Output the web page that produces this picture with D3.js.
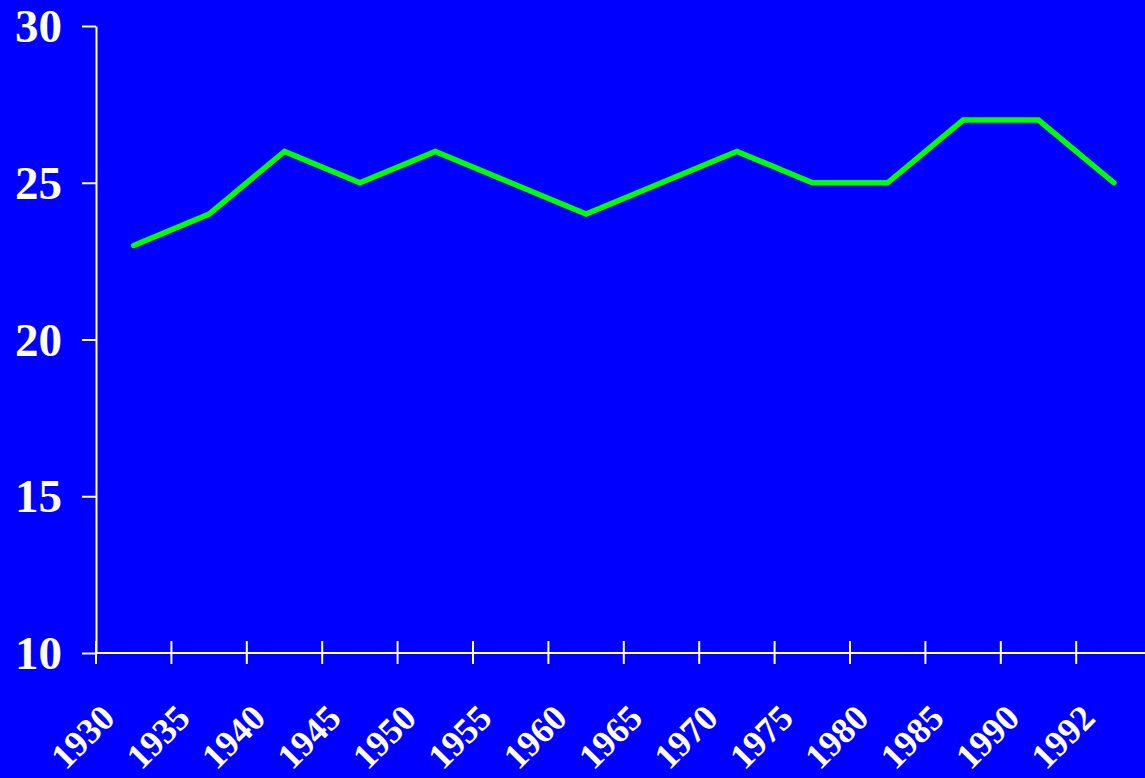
<!DOCTYPE html>
<html>
<head>
<meta charset="utf-8">
<script src="https://cdn.jsdelivr.net/npm/d3@7"></script>
<style>
  html, body { margin: 0; padding: 0; background: #0000ff; }
  svg { display: block; }
  .axis text { font-family: "Liberation Serif", "Times New Roman", serif; font-weight: bold; fill: #fff; }
</style>
</head>
<body>
<svg id="chart" width="1145" height="778"></svg>
<script>
// data
const years = ["1930", "1935", "1940", "1945", "1950", "1955", "1960",
               "1965", "1970", "1975", "1980", "1985", "1990", "1992"];
const values = [23, 24, 26, 25, 26, 25, 24, 25, 26, 25, 25, 27, 27, 25];
const yTicks = [10, 15, 20, 25, 30];

const svg = d3.select("#chart");
const W = +svg.attr("width");
const H = +svg.attr("height");

svg.append("rect").attr("width", W).attr("height", H).attr("fill", "#0000ff");

// layout
const plotLeft = 96, plotTop = 26, plotBottom = 653;
const step = 75.4;

const x = d3.scaleBand().domain(years).range([plotLeft, plotLeft + step * years.length]).padding(0);
const y = d3.scaleLinear().domain([10, 30]).range([plotBottom, plotTop]);

// y axis
const yAxisG = svg.append("g")
    .attr("class", "axis")
    .attr("transform", `translate(${plotLeft},0)`)
    .call(d3.axisLeft(y).tickValues(yTicks).tickSize(14).tickSizeOuter(0).tickPadding(20));
yAxisG.select(".domain").attr("stroke", "#fff").attr("stroke-width", 2);
yAxisG.selectAll(".tick line").attr("stroke", "#fff").attr("stroke-width", 2);
yAxisG.selectAll(".tick text").attr("font-size", 47).attr("dy", "0.33em");

// x axis line
svg.append("line")
    .attr("x1", plotLeft).attr("x2", W)
    .attr("y1", plotBottom).attr("y2", plotBottom)
    .attr("stroke", "#fff").attr("stroke-width", 2);

// tick marks at band boundaries (crossing the axis)
svg.append("g").selectAll("line")
    .data(years)
    .join("line")
    .attr("x1", d => x(d)).attr("x2", d => x(d))
    .attr("y1", plotBottom - 12).attr("y2", plotBottom + 11)
    .attr("stroke", "#fff").attr("stroke-width", 2);

// rotated year labels
svg.append("g").attr("class", "axis").selectAll("text")
    .data(years)
    .join("text")
    .attr("text-anchor", "end")
    .attr("font-size", 36)
    .attr("transform", d => `translate(${x(d) + x.bandwidth() / 2 - 17},${plotBottom + 67}) rotate(-45)`)
    .text(d => d);

// line
const line = d3.line()
    .x((d, i) => x(years[i]) + x.bandwidth() / 2)
    .y(d => y(d));

svg.append("path")
    .datum(values)
    .attr("d", line)
    .attr("fill", "none")
    .attr("stroke", "#00ff00")
    .attr("stroke-width", 5.5)
    .attr("stroke-linejoin", "miter")
    .attr("stroke-linecap", "round");
</script>
</body>
</html>
